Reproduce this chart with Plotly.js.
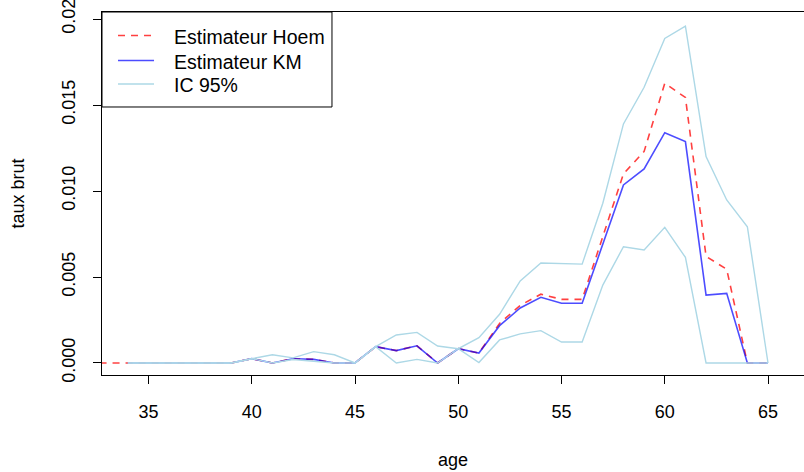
<!DOCTYPE html>
<html>
<head>
<meta charset="utf-8">
<script src="https://cdn.plot.ly/plotly-3.0.1.min.js"></script>
<style>html,body{margin:0;padding:0;background:#fff;}#chart{width:804px;height:472px;}</style>
</head>
<body>
<div id="chart"></div>
<script>
// Data
const agesHoem = [32,33,34,35,36,37,38,39,40,41,42,43,44,45,46,47,48,49,50,51,52,53,54,55,56,57,58,59,60,61,62,63,64,65];
const hoem = [0,0,0,0,0,0,0,0,0.00025,0,0.00025,0.00021,0,0,0.00095,0.00072,0.0010,0,0.00083,0.00058,0.0023,0.00335,0.0040,0.0037,0.0037,0.0074,0.0110,0.0123,0.01626,0.01544,0.0062,0.00545,0,0];
const ages = [34,35,36,37,38,39,40,41,42,43,44,45,46,47,48,49,50,51,52,53,54,55,56,57,58,59,60,61,62,63,64,65];
const km = [0,0,0,0,0,0,0.00025,0,0.00025,0.00021,0,0,0.00095,0.00072,0.0010,0,0.00083,0.00058,0.00217,0.0032,0.00382,0.00347,0.00347,0.0069,0.01035,0.01128,0.01339,0.01287,0.00395,0.00405,0,0];
const icUpper = [0,0,0,0,0,0,0.00025,0.00048,0.0003,0.00066,0.00048,0,0.00095,0.00163,0.00178,0.00099,0.00083,0.00147,0.00283,0.00477,0.00581,0.00576,0.00575,0.00929,0.0139,0.01603,0.01887,0.01959,0.0120,0.00948,0.00792,0];
const icLower = [0,0,0,0,0,0,0.00025,0,0.0002,0.00008,0,0,0.00095,0,0.00021,0,0.00083,0.00003,0.00134,0.00169,0.00188,0.00122,0.00122,0.00453,0.00676,0.00657,0.00789,0.00614,0,0,0,0];
const xTicks = [35,40,45,50,55,60,65];
const yTicks = [0,0.005,0.010,0.015,0.020];
const yTickText = ['0.000','0.005','0.010','0.015','0.02'];
const legendLabels = ['Estimateur Hoem','Estimateur KM','IC 95%'];

const font = {family: 'Liberation Sans, Arial, sans-serif', color: '#000'};
const styles = [
  {color: 'rgba(255,0,0,0.75)', width: 1.6, dash: '7px,6px'},
  {color: 'rgba(0,0,255,0.7)', width: 1.6},
  {color: '#ADD8E6', width: 1.4}
];
const traces = [
  {x: agesHoem, y: hoem, mode: 'lines', name: legendLabels[0], line: styles[0]},
  {x: ages, y: km, mode: 'lines', name: legendLabels[1], line: styles[1]},
  {x: ages, y: icUpper, mode: 'lines', name: legendLabels[2], line: styles[2]},
  {x: ages, y: icLower, mode: 'lines', name: legendLabels[2] + ' (inf)', line: styles[2]}
];

// Legend box (R style), positioned in paper coordinates
const legendRowsY = [0.9353, 0.8664, 0.8017];
const shapes = [{type: 'rect', xref: 'paper', yref: 'paper', x0: 0, x1: 0.3276, y0: 0.7383, y1: 1,
  line: {color: '#000', width: 1}, fillcolor: '#fff', layer: 'above'}];
const annotations = [];
legendLabels.forEach((lab, i) => {
  shapes.push({type: 'line', xref: 'paper', yref: 'paper', x0: 0.0228, x1: 0.0741,
    y0: legendRowsY[i], y1: legendRowsY[i], line: styles[i], layer: 'above'});
  annotations.push({xref: 'paper', yref: 'paper', x: 0.1004, y: legendRowsY[i] - 0.003,
    xanchor: 'left', yanchor: 'middle', text: lab, showarrow: false,
    font: Object.assign({size: 19.5}, font)});
});

const layout = {
  width: 804, height: 472,
  margin: {l: 102, r: 0, t: 12, b: 97, pad: 0},
  paper_bgcolor: '#fff', plot_bgcolor: '#fff',
  font: Object.assign({size: 18}, font),
  showlegend: false,
  shapes: shapes, annotations: annotations,
  xaxis: {range: [32.748, 66.743], tickvals: xTicks, ticktext: xTicks.map(String),
    ticks: 'outside', ticklen: 8, tickcolor: '#000', tickwidth: 1, ticklabelstandoff: 12,
    showgrid: false, zeroline: false, showline: true, linecolor: '#000', linewidth: 1,
    mirror: true, tickfont: Object.assign({size: 18}, font),
    title: {text: 'age', font: Object.assign({size: 18}, font), standoff: 32}},
  yaxis: {range: [-0.000698, 0.020407], tickvals: yTicks, ticktext: yTickText,
    ticks: 'outside', ticklen: 8, tickcolor: '#000', tickwidth: 1, tickangle: -90,
    ticklabelstandoff: 11, ticklabeloverflow: 'allow',
    showgrid: false, zeroline: false, showline: true, linecolor: '#000', linewidth: 1,
    tickfont: Object.assign({size: 18}, font),
    title: {text: 'taux brut', font: Object.assign({size: 18}, font), standoff: 29}}
};
Plotly.newPlot('chart', traces, layout, {staticPlot: true, displayModeBar: false});
</script>
</body>
</html>
